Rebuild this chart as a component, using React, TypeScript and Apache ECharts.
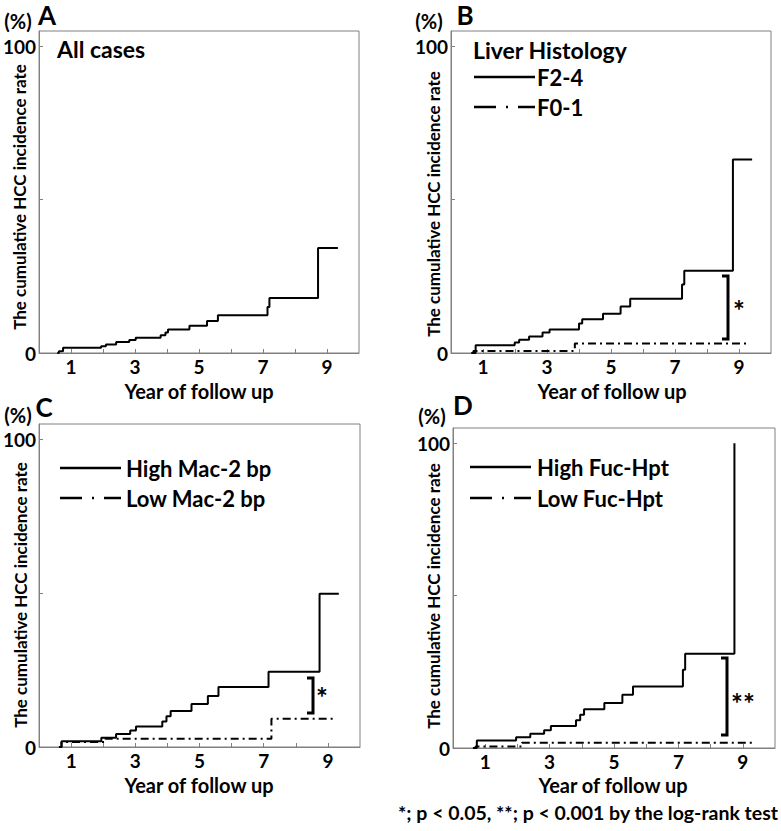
import React, { useEffect, useRef } from "react";
import * as echarts from "echarts";

const FONT = "Lato, 'Open Sans', sans-serif";

// Panel A: all cases
const aTimes = [0.57, 0.62, 0.75, 1.94, 2.09, 2.41, 2.82, 3.02, 3.8, 3.95, 4.03, 4.7, 5.25, 5.59, 7.14, 7.2, 8.72, 9.34];
const aRates = [0, 0.6, 1.7, 2.2, 2.8, 3.6, 4.2, 5.0, 5.8, 6.7, 7.7, 8.9, 10.4, 12.3, 15.0, 17.9, 34.2, 34.2];

// Panel B: liver histology
const bHighTimes = [0.64, 0.77, 1.99, 2.13, 2.44, 2.86, 3.08, 4.0, 4.1, 4.75, 5.3, 5.6, 7.22, 7.29, 8.81, 9.41];
const bHighRates = [0, 2.5, 3.4, 4.3, 5.4, 6.7, 7.7, 9.6, 11.0, 12.8, 15.2, 17.7, 22.3, 26.8, 63.1, 63.1];
const bLowTimes = [0.64, 0.7, 3.87, 9.23];
const bLowRates = [0, 0.65, 3.1, 3.1];

// Panel C: Mac-2 bp
const cHighTimes = [0.62, 0.7, 1.94, 2.4, 2.84, 3.02, 3.84, 3.97, 4.1, 4.75, 5.26, 5.59, 7.15, 8.74, 9.34];
const cHighRates = [0, 1.9, 3.0, 4.2, 5.4, 6.7, 8.3, 10.0, 11.7, 14.0, 16.6, 19.5, 24.5, 49.8, 49.8];
const cLowTimes = [0.62, 0.7, 2.07, 7.24, 9.15];
const cLowRates = [0, 1.6, 2.7, 9.2, 9.2];

// Panel D: Fuc-Hpt
const dHighTimes = [0.62, 0.74, 1.96, 2.4, 2.83, 3.04, 3.82, 3.95, 4.07, 4.7, 5.26, 5.59, 7.14, 7.21, 8.74];
const dHighRates = [0, 2.5, 3.5, 4.7, 5.8, 7.2, 9.1, 10.9, 12.7, 14.8, 17.5, 20.2, 25.7, 30.9, 100];
const dLowTimes = [0.62, 0.7, 2.14, 9.35];
const dLowRates = [0, 0.5, 1.7, 1.7];

const xTickValues = [1, 2, 3, 4, 5, 6, 7, 8, 9];
const xLabelValues = [1, 3, 5, 7, 9];
const yTickValues = [0, 50, 100];
const yLabelValues = [0, 100];

const yTitle = "The cumulative HCC incidence rate";
const xTitle = "Year of follow up";
const panelLetters = ["A", "B", "C", "D"];
const footnote = "*; p < 0.05, **; p < 0.001 by the log-rank test";

const DASHDOT = [8, 4, 2, 4];
const LEGEND_DASH = [22, 10, 2, 10];

function zip(t: number[], r: number[]) {
  return t.map((v, i) => [v, r[i]]);
}

export default function App() {
  const ref = useRef<HTMLDivElement>(null);
  useEffect(() => {
    document.body.style.margin = "0";
    const chart = echarts.init(ref.current!, undefined, { renderer: "svg" });
    const grids = [
      { left: 37, top: 31, width: 322, height: 322 },
      { left: 451, top: 31, width: 320, height: 322 },
      { left: 37, top: 424, width: 323, height: 323 },
      { left: 453, top: 428, width: 322, height: 320 },
    ];
    const gray = "#808080";
    const xAxes = grids.map((_, i) => ({
      gridIndex: i,
      type: "value",
      min: 0,
      max: 10,
      interval: 1,
      axisLine: { show: true, lineStyle: { color: gray, width: 1 } },
      axisTick: { show: true, inside: true, length: 4, customValues: xTickValues, lineStyle: { color: gray } },
      axisLabel: {
        customValues: xLabelValues,
        color: "#000",
        fontWeight: "bold",
        fontSize: 19,
        fontFamily: FONT,
        margin: 4,
      },
      splitLine: { show: false },
    }));
    const yAxes = grids.map((_, i) => ({
      gridIndex: i,
      type: "value",
      min: 0,
      max: 105,
      axisLine: { show: true, lineStyle: { color: gray, width: 1 } },
      axisTick: { show: true, inside: true, length: 4, customValues: yTickValues, lineStyle: { color: gray } },
      axisLabel: {
        customValues: yLabelValues,
        color: "#000",
        fontWeight: "bold",
        fontSize: 19,
        fontFamily: FONT,
        margin: 3,
      },
      splitLine: { show: false },
    }));
    const solid = (name: string, i: number, t: number[], r: number[]) => ({
      name,
      type: "line",
      xAxisIndex: i,
      yAxisIndex: i,
      step: "end",
      symbol: "none",
      data: zip(t, r),
      lineStyle: { color: "#000", width: 2 },
    });
    const dashed = (name: string, i: number, t: number[], r: number[]) => ({
      name,
      type: "line",
      xAxisIndex: i,
      yAxisIndex: i,
      step: "end",
      symbol: "none",
      data: zip(t, r),
      lineStyle: { color: "#000", width: 2, type: DASHDOT },
    });
    const txt = (text: string, x: number, y: number, size: number, align = "left", extra: any = {}) => ({
      type: "text",
      x,
      y,
      ...extra,
      style: {
        text,
        fill: "#000",
        fontSize: size,
        fontWeight: "bold",
        fontFamily: FONT,
        align,
        verticalAlign: "middle",
      },
    });
    const ln = (x1: number, y1: number, x2: number, y2: number, dash?: number[]) => ({
      type: "line",
      shape: { x1, y1, x2, y2 },
      style: { stroke: "#000", lineWidth: 2.5, lineDash: dash },
    });
    const bracket = (x: number, y1: number, y2: number) => ({
      type: "polyline",
      shape: { points: [[x - 6, y1], [x, y1], [x, y2], [x - 6, y2]] },
      style: { stroke: "#000", lineWidth: 3, fill: null },
    });
    const graphic: any[] = [
      // Panel A
      txt("(%)", 18, 21, 20, "center"),
      txt(panelLetters[0], 47, 15, 26, "center"),
      txt("All cases", 57, 49, 23),
      txt(yTitle, 19, 197, 17, "center", { rotation: Math.PI / 2 }),
      txt(xTitle, 199, 391, 20, "center"),
      // Panel B
      txt("(%)", 429, 21, 20, "center"),
      txt(panelLetters[1], 465, 15, 26, "center"),
      txt("Liver Histology", 473, 50, 23),
      ln(474, 77, 535, 77),
      txt("F2-4", 537, 77, 22),
      ln(474, 107, 535, 107, LEGEND_DASH),
      txt("F0-1", 537, 107, 22),
      txt(yTitle, 433, 204, 17, "center", { rotation: Math.PI / 2 }),
      txt(xTitle, 612, 391, 20, "center"),
      bracket(728, 276, 339),
      txt("*", 739, 310, 28, "center"),
      // Panel C
      txt("(%)", 18, 415, 20, "center"),
      txt(panelLetters[2], 44, 407, 26, "center"),
      ln(60, 468, 121, 468),
      txt("High Mac-2 bp", 126, 468, 22),
      ln(60, 498, 121, 498, LEGEND_DASH),
      txt("Low Mac-2 bp", 126, 498, 22),
      txt(yTitle, 20, 595, 17, "center", { rotation: Math.PI / 2 }),
      txt(xTitle, 199, 785, 20, "center"),
      bracket(313, 678, 713),
      txt("*", 322, 697, 28, "center"),
      // Panel D
      txt("(%)", 432, 416, 20, "center"),
      txt(panelLetters[3], 463, 405, 26, "center"),
      ln(470, 467, 531, 467),
      txt("High Fuc-Hpt", 537, 467, 22),
      ln(470, 498, 531, 498, LEGEND_DASH),
      txt("Low Fuc-Hpt", 537, 498, 22),
      txt(yTitle, 433, 596, 17, "center", { rotation: Math.PI / 2 }),
      txt(xTitle, 613, 785, 20, "center"),
      bracket(727, 658, 735),
      txt("**", 743, 703, 28, "center"),
      // footnote
      txt(footnote, 778, 812, 19.5, "right"),
    ];
    chart.setOption({
      animation: false,
      backgroundColor: "#fff",
      grid: grids.map((g) => ({ ...g, show: true, borderColor: gray, borderWidth: 1, backgroundColor: "transparent" })),
      xAxis: xAxes,
      yAxis: yAxes,
      series: [
        solid("All cases", 0, aTimes, aRates),
        solid("F2-4", 1, bHighTimes, bHighRates),
        dashed("F0-1", 1, bLowTimes, bLowRates),
        solid("High Mac-2 bp", 2, cHighTimes, cHighRates),
        dashed("Low Mac-2 bp", 2, cLowTimes, cLowRates),
        solid("High Fuc-Hpt", 3, dHighTimes, dHighRates),
        dashed("Low Fuc-Hpt", 3, dLowTimes, dLowRates),
      ],
      graphic,
    });
    return () => chart.dispose();
  }, []);
  return <div ref={ref} style={{ width: 781, height: 831 }} />;
}
